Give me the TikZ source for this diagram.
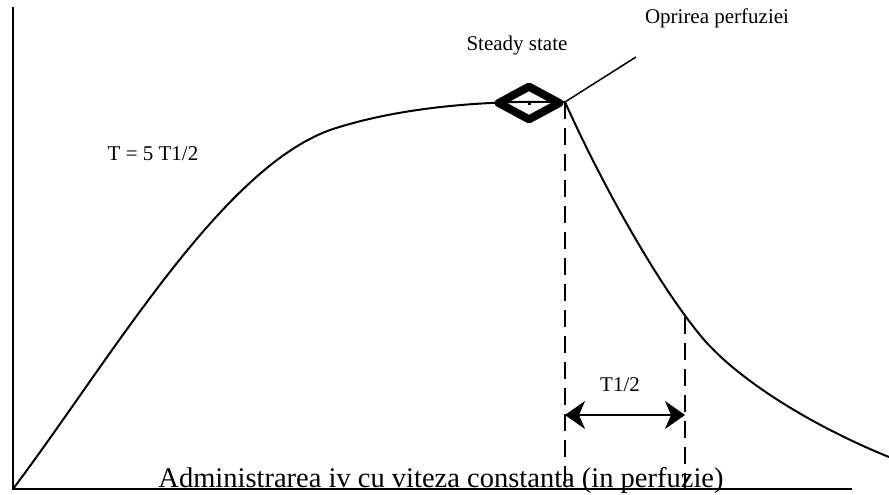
\documentclass[tikz,border=0pt]{standalone}
\usepackage{fontspec}
\setmainfont{Liberation Serif}
\usetikzlibrary{arrows.meta, positioning, shapes.geometric}

\begin{document}
\begin{tikzpicture}[
  x=1pt, y=-1pt,
  axis/.style={line width=2.6pt},
  curve/.style={line width=2pt},
  guide/.style={line width=2pt, dash pattern=on 17pt off 9pt},
  lbl/.style={font=\fontsize{21}{21}\selectfont, inner sep=0pt},
  span/.style={{Stealth[length=20pt, width=28pt, inset=6pt]}-{Stealth[length=20pt, width=28pt, inset=6pt]}, line width=1.5pt}
]
  \useasboundingbox (0,0) rectangle (889,495);

  % axes
  \coordinate (o) at (13,489);
  \coordinate (ytop) at (13,7);
  \coordinate (xend) at (852,489);
  \draw[axis] (ytop) -- (o) -- (xend);

  % rise and fall
  \coordinate (mid) at (330,130);
  \coordinate (peak) at (565,102);
  \coordinate (half) at (700,335);
  \coordinate (tail) at (889,457);
  \draw[curve] (o) .. controls (110,360) and (220,170) .. (mid)
    .. controls (390,110) and (470,100) .. (peak);
  \draw[curve] (peak) .. controls (600,180) and (655,280) .. (half)
    .. controls (735,378) and (810,425) .. (tail);

  % steady state marker
  \node[draw, diamond, line width=8pt, line join=round, minimum width=64pt, minimum height=36pt, inner sep=0pt] (ss) at (529,103) {};
  \fill (527.5,102) rectangle (531,105);

  % stop of infusion
  \coordinate (stopend) at (636,57);
  \draw[line width=1.5pt] (peak) -- (stopend);

  % half-life guides
  \coordinate (g1bot) at (565,490);
  \coordinate (g2top) at (685,317);
  \coordinate (g2bot) at (685,490);
  \draw[guide] (peak) -- (g1bot);
  \draw[guide] (g2top) -- (g2bot);
  \coordinate (a1) at (565,415);
  \coordinate (a2) at (685,415);
  \draw[span] (a1) -- (a2);

  % labels
  \node[lbl] (lss) at (517,45) {Steady state};
  \node[lbl] (lstop) at (717,18) {Oprirea perfuziei};
  \node[lbl] (lhalf) at (620,385) {T1/2};
  \node[lbl] (lfive) at (153,154) {T = 5 T1/2};
  \node[font=\fontsize{28.5}{28.5}\selectfont, inner sep=0pt, anchor=base] (ltitle) at (441,487) {Administrarea iv cu viteza constanta (in perfuzie)};
\end{tikzpicture}
\end{document}
